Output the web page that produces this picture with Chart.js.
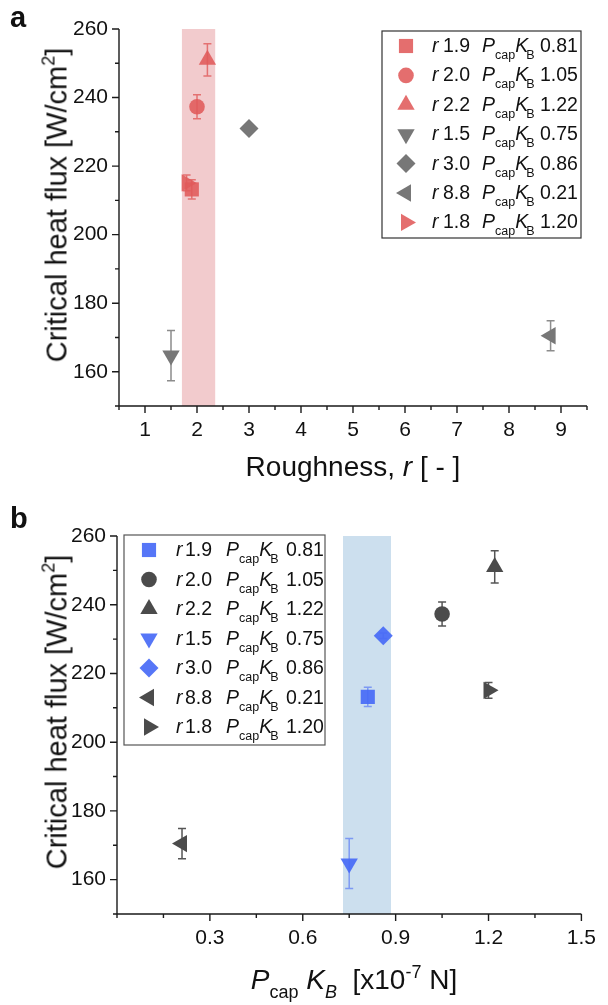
<!DOCTYPE html>
<html>
<head>
<meta charset="utf-8">
<script src="https://cdn.jsdelivr.net/npm/chart.js@4.4.1/dist/chart.umd.min.js"></script>
<style>
  body { margin: 0; background: #fff; font-family: "Liberation Sans", Arial, sans-serif; color: #111; }
  #wrap { position: relative; width: 608px; height: 1005px; overflow: hidden; }
  .panel { position: absolute; left: 0; width: 608px; }
  canvas { display: block; }
  .txt { position: absolute; white-space: nowrap; line-height: 1; }
  .letter { font-size: 29px; font-weight: bold; }
  .ytitle { font-size: 29px; transform: translate(-50%, -50%) rotate(-90deg); }
  .ytitle sup { font-size: 18px; vertical-align: 12px; line-height: 0; }
  .xtitle { font-size: 28px; transform: translateX(-50%); }
  .xtitle sub { font-size: 18px; vertical-align: -9px; line-height: 0; }
  .xtitle sup { font-size: 18px; vertical-align: 11px; line-height: 0; }
  .legrow { position: absolute; left: 0; width: 608px; height: 19px; font-size: 19.5px; line-height: 1; }
  .legrow span { position: absolute; top: 0; white-space: nowrap; }
  .legrow sub { font-size: 12.5px; vertical-align: -7px; line-height: 0; }
  .legrow sub.kb { margin-left: -2px; }
</style>
</head>
<body>
<div id="wrap">
  <div class="panel" id="panelA" style="top:0;height:500px">
    <canvas id="chartA" width="608" height="500"></canvas>
    <div class="txt letter" style="left:10px;top:3px">a</div>
    <div class="txt ytitle" style="left:57px;top:205px">Critical heat flux [W/cm<sup>2</sup>]</div>
    <div class="txt xtitle" style="left:353px;top:453px">Roughness, <i>r</i> [ - ]</div>
  </div>
  <div class="panel" id="panelB" style="top:500px;height:505px">
    <canvas id="chartB" width="608" height="505"></canvas>
    <div class="txt letter" style="left:10px;top:4px">b</div>
    <div class="txt ytitle" style="left:57px;top:212px">Critical heat flux [W/cm<sup>2</sup>]</div>
    <div class="txt xtitle" style="left:354px;top:466px"><i>P</i><sub>cap</sub> <i>K<sub>B</sub></i>&nbsp; [x10<sup>-7</sup> N]</div>
  </div>
</div>
<script>
const FONT = '"Liberation Sans", Arial, sans-serif';

// samples: roughness, capillary force term, critical heat flux and its error
const sampleR = [1.9, 2.0, 2.2, 1.5, 3.0, 8.8, 1.8];
const samplePK = [0.81, 1.05, 1.22, 0.75, 0.86, 0.21, 1.20];
const chf = [213.2, 237.3, 251.0, 164.7, 231.0, 170.5, 215.1];
const chfErr = [2.8, 3.5, 4.7, 7.3, 0.8, 4.4, 2.3];

const markerStyle = ["rect", "circle", "triangle", "triangle", "rectRot", "triangle", "triangle"];
const markerRotation = [0, 0, 0, 180, 0, 270, 90];
const markerRadius = [10, 7.8, 10, 10, 9.5, 10, 10];

const RED = "rgba(224, 90, 90, 0.88)";
const GREY = "#777777";
const BLUE = "rgba(72, 106, 246, 0.92)";
const DARK = "#4b4b4b";
const colorsA = [RED, RED, RED, GREY, GREY, GREY, RED];
const errColorsA = ["rgba(224,90,90,0.8)", "rgba(224,90,90,0.8)", "rgba(224,90,90,0.8)", "#8c8c8c", "#8c8c8c", "#8c8c8c", "rgba(224,90,90,0.8)"];
const colorsB = [BLUE, DARK, DARK, BLUE, BLUE, DARK, DARK];
const errColorsB = ["rgba(72,106,246,0.6)", "#555", "#555", "rgba(72,106,246,0.6)", "rgba(72,106,246,0.6)", "#555", "#555"];

const yTicks = [160, 180, 200, 220, 240, 260];
const yMinor = [150, 170, 190, 210, 230, 250];
const xTicksA = [1, 2, 3, 4, 5, 6, 7, 8, 9];
const xMinorA = [0.5, 1.5, 2.5, 3.5, 4.5, 5.5, 6.5, 7.5, 8.5, 9.5];
const xTicksB = [0.3, 0.6, 0.9, 1.2, 1.5];
const xMinorB = [0, 0.15, 0.45, 0.75, 1.05, 1.35];

const bandA = [1.71, 2.35];
const bandB = [0.73, 0.885];

function makeFigurePlugin(cfg) {
  return {
    id: "figure",
    beforeDatasetsDraw(chart) {
      const { ctx, chartArea: a, scales: { x, y } } = chart;
      ctx.save();
      // highlighted range
      const x0 = x.getPixelForValue(cfg.band[0]);
      const x1 = x.getPixelForValue(cfg.band[1]);
      ctx.fillStyle = cfg.bandColor;
      ctx.fillRect(x0, a.top, x1 - x0, a.bottom - a.top);

      // error bars
      ctx.lineWidth = 1.5;
      cfg.xs.forEach((xv, i) => {
        const px = x.getPixelForValue(xv);
        const hi = y.getPixelForValue(chf[i] + chfErr[i]);
        const lo = y.getPixelForValue(chf[i] - chfErr[i]);
        ctx.strokeStyle = cfg.errColors[i];
        ctx.beginPath();
        ctx.moveTo(px, hi); ctx.lineTo(px, lo);
        ctx.moveTo(px - 4, hi); ctx.lineTo(px + 4, hi);
        ctx.moveTo(px - 4, lo); ctx.lineTo(px + 4, lo);
        ctx.stroke();
      });
      ctx.restore();
    },
    afterDraw(chart) {
      const { ctx, chartArea: a, scales: { x, y } } = chart;
      ctx.save();
      ctx.strokeStyle = "#1a1a1a";
      ctx.lineWidth = 1.4;
      ctx.beginPath();
      ctx.moveTo(a.left, a.top);
      ctx.lineTo(a.left, a.bottom);
      ctx.lineTo(a.right, a.bottom);
      yTicks.forEach((v) => { const p = y.getPixelForValue(v); ctx.moveTo(a.left, p); ctx.lineTo(a.left - 7, p); });
      yMinor.forEach((v) => { const p = y.getPixelForValue(v); ctx.moveTo(a.left, p); ctx.lineTo(a.left - 4, p); });
      cfg.xTicks.forEach((v) => { const p = x.getPixelForValue(v); ctx.moveTo(p, a.bottom); ctx.lineTo(p, a.bottom + 7); });
      cfg.xMinor.forEach((v) => { const p = x.getPixelForValue(v); ctx.moveTo(p, a.bottom); ctx.lineTo(p, a.bottom + 4); });
      ctx.stroke();

      // legend frame and symbols
      const L = cfg.legend;
      ctx.strokeStyle = L.border;
      ctx.lineWidth = 1.2;
      ctx.strokeRect(L.box[0], L.box[1], L.box[2] - L.box[0], L.box[3] - L.box[1]);
      markerStyle.forEach((style, i) => {
        ctx.fillStyle = cfg.colors[i];
        Chart.helpers.drawPoint(ctx, {
          pointStyle: style,
          rotation: markerRotation[i],
          radius: markerRadius[i],
          borderWidth: 0,
        }, L.markerX, L.rowTop + i * L.rowGap);
      });
      ctx.restore();
    },
  };
}

function makeChart(canvasId, cfg) {
  return new Chart(document.getElementById(canvasId), {
    type: "scatter",
    data: {
      datasets: [{
        data: cfg.xs.map((v, i) => ({ x: v, y: chf[i] })),
        pointStyle: markerStyle,
        pointRotation: markerRotation,
        pointRadius: markerRadius,
        pointHoverRadius: markerRadius,
        pointBackgroundColor: cfg.colors,
        pointBorderWidth: 0,
      }],
    },
    options: {
      responsive: false,
      animation: false,
      devicePixelRatio: 1,
      events: [],
      layout: { padding: { top: cfg.padTop, right: cfg.padRight, left: 0, bottom: 0 } },
      plugins: { legend: { display: false }, tooltip: { enabled: false } },
      scales: {
        x: {
          type: "linear",
          min: cfg.xMin,
          max: cfg.xMax,
          afterBuildTicks: (s) => { s.ticks = cfg.xTicks.map((v) => ({ value: v })); },
          afterFit: (s) => { s.height = cfg.xAxisHeight; },
          grid: { display: false, drawTicks: false },
          border: { display: false },
          ticks: {
            padding: 12,
            color: "#111",
            font: { family: FONT, size: 21 },
            maxRotation: 0,
            autoSkip: false,
            callback: cfg.xLabel,
          },
        },
        y: {
          type: "linear",
          min: 150,
          max: 260,
          afterBuildTicks: (s) => { s.ticks = yTicks.map((v) => ({ value: v })); },
          afterFit: (s) => { s.width = cfg.yAxisWidth; },
          grid: { display: false, drawTicks: false },
          border: { display: false },
          ticks: {
            padding: 11,
            color: "#111",
            font: { family: FONT, size: 21 },
            autoSkip: false,
          },
        },
      },
    },
    plugins: [makeFigurePlugin(cfg)],
  });
}

const legendA = { box: [382, 31, 581, 238], border: "#333", markerX: 406, rowTop: 46, rowGap: 29.4, r: 432, rv: 443, p: 482, v: 540 };
const legendB = { box: [124, 35, 325, 245], border: "#555", markerX: 149, rowTop: 50, rowGap: 29.5, r: 176, rv: 185, p: 226, v: 286 };

makeChart("chartA", {
  xs: sampleR, colors: colorsA, errColors: errColorsA,
  band: bandA, bandColor: "#f2cbcd",
  xMin: 0.5, xMax: 9.5, xTicks: xTicksA, xMinor: xMinorA,
  xLabel: (v) => String(v),
  padTop: 29, padRight: 21, yAxisWidth: 119, xAxisHeight: 94,
  legend: legendA,
});

makeChart("chartB", {
  xs: samplePK, colors: colorsB, errColors: errColorsB,
  band: bandB, bandColor: "#ccdfee",
  xMin: 0, xMax: 1.5, xTicks: xTicksB, xMinor: xMinorB,
  xLabel: (v) => v.toFixed(1),
  padTop: 36, padRight: 19, yAxisWidth: 117, xAxisHeight: 91,
  legend: legendB,
});

// legend text rows
function buildLegendText(panelId, L) {
  const panel = document.getElementById(panelId);
  sampleR.forEach((r, i) => {
    const row = document.createElement("div");
    row.className = "legrow";
    row.style.top = (L.rowTop + i * L.rowGap - 10) + "px";
    row.innerHTML =
      `<span style="left:${L.r}px"><i>r</i></span>` +
      `<span style="left:${L.rv}px">${r.toFixed(1)}</span>` +
      `<span style="left:${L.p}px"><i>P</i><sub>cap</sub><i>K</i><sub class="kb">B</sub></span>` +
      `<span style="left:${L.v}px">${samplePK[i].toFixed(2)}</span>`;
    panel.appendChild(row);
  });
}
buildLegendText("panelA", legendA);
buildLegendText("panelB", legendB);
</script>
</body>
</html>
